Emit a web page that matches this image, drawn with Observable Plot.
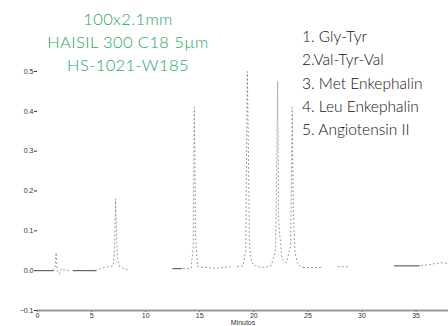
<!DOCTYPE html>
<html>
<head>
<meta charset="utf-8">
<script src="https://cdn.jsdelivr.net/npm/d3@7"></script>
<script src="https://cdn.jsdelivr.net/npm/@observablehq/plot@0.6"></script>
<style>
  html, body { margin: 0; padding: 0; background: #fff; }
  #wrap { position: relative; width: 448px; height: 326px; overflow: hidden; }
  .t { position: absolute; white-space: nowrap; font-family: Lato, "Open Sans", sans-serif; font-weight: 300; }
  .green { color: #22a85c; font-size: 16.5px; letter-spacing: 0.4px; text-align: center; width: 240px; left: 8px; }
  .leg { color: #111; font-size: 15.5px; left: 302px; }
</style>
</head>
<body>
<div id="wrap"></div>
<script>
// Chromatogram (time in minutes, absorbance)
const solidSeg = [1, 1, 2, 2, 3, 3, 4, 4];
const solidTime = [0, 1.5, 3.3, 5.4, 12.5, 13.3, 33.0, 35.3];
const solidAbs = [0.0, 0.0, 0.0, 0.0, 0.005, 0.005, 0.012, 0.012];

const traceSeg = [
  1,1,1,1,1,1,1,1,
  2,2,2,2,2,2,2,2,2,2,2,2,
  3,3,3,3,3,3,3,3,3,
  4,4,4,4,4,4,4,4,4,4,4,4,4,4,4,4,4,4,4,4,4,4,4,
  5,5,5,
  6,6,
  7,7,7,7,7
];
const traceTime = [
  1.5, 1.62, 1.72, 1.82, 2.0, 2.2, 2.5, 2.9,
  5.4, 5.8, 6.2, 6.6, 7.0, 7.12, 7.22, 7.3, 7.4, 7.6, 8.0, 8.4,
  13.5, 14.2, 14.4, 14.5, 14.62, 14.8, 15.5, 16.5, 17.8,
  18.5, 19.0, 19.25, 19.4, 19.5, 19.6, 19.8, 20.3, 21.0, 21.6, 22.0, 22.1, 22.2, 22.3, 22.6, 23.0, 23.4, 23.55, 23.65, 23.8, 24.0, 24.3, 24.6,
  24.6, 25.5, 26.4,
  27.8, 28.8,
  35.5, 36.2, 36.8, 37.4, 38.0
];
const traceAbs = [
  0.0, 0.01, 0.045, 0.0, -0.008, 0.005, 0.002, 0.0,
  0.0, 0.005, 0.008, 0.01, 0.012, 0.05, 0.18, 0.1, 0.03, 0.01, 0.005, 0.002,
  0.005, 0.006, 0.06, 0.41, 0.08, 0.01, 0.008, 0.006, 0.01,
  0.01, 0.012, 0.05, 0.5, 0.3, 0.06, 0.02, 0.01, 0.008, 0.012, 0.05, 0.2, 0.475, 0.12, 0.03, 0.02, 0.06, 0.41, 0.15, 0.05, 0.02, 0.01, 0.008,
  0.008, 0.008, 0.008,
  0.01, 0.01,
  0.013, 0.015, 0.018, 0.02, 0.018
];
const yTicks = [-0.1, 0.0, 0.1, 0.2, 0.3, 0.4, 0.5];
const xTicks = [0, 5, 10, 15, 20, 25, 30, 35];
const titleLines = ["100x2.1mm", "HAISIL 300 C18 5µm", "HS-1021-W185"];
const legendLines = ["1. Gly-Tyr", "2.Val-Tyr-Val", "3. Met Enkephalin", "4. Leu Enkephalin", "5. Angiotensin II"];

const solid = solidTime.map((t, i) => ({t, a: solidAbs[i], s: solidSeg[i]}));
const trace = traceTime.map((t, i) => ({t, a: traceAbs[i], s: traceSeg[i]}));

const chart = Plot.plot({
  width: 448,
  height: 326,
  marginLeft: 37,
  marginRight: 0,
  marginTop: 71,
  marginBottom: 16,
  style: {fontFamily: "'Liberation Sans', Arial, sans-serif", fontSize: "7px", color: "#333", background: "#fff"},
  x: {domain: [0, 38], ticks: xTicks, tickSize: 2, tickPadding: 1, label: "Minutos", labelAnchor: "center", labelArrow: "none", labelOffset: 14},
  y: {domain: [-0.1, 0.5], ticks: yTicks, tickSize: 3, tickPadding: 1, tickFormat: d3.format(".1f"), label: null},
  marks: [
    Plot.ruleY([-0.1], {stroke: "#999", strokeWidth: 2}),
    Plot.line(solid, {x: "t", y: "a", z: "s", stroke: "#444", strokeWidth: 1}),
    Plot.line(trace, {x: "t", y: "a", z: "s", stroke: "#888", strokeWidth: 0.9, strokeDasharray: "1,3"})
  ]
});

const wrap = document.getElementById("wrap");
wrap.appendChild(chart);
titleLines.forEach((s, i) => {
  const d = document.createElement("div");
  d.className = "t green";
  d.textContent = s;
  d.style.top = (9 + i * 23) + "px";
  wrap.appendChild(d);
});
legendLines.forEach((s, i) => {
  const d = document.createElement("div");
  d.className = "t leg";
  d.textContent = s;
  d.style.top = (27 + i * 23.3) + "px";
  wrap.appendChild(d);
});
</script>
</body>
</html>
